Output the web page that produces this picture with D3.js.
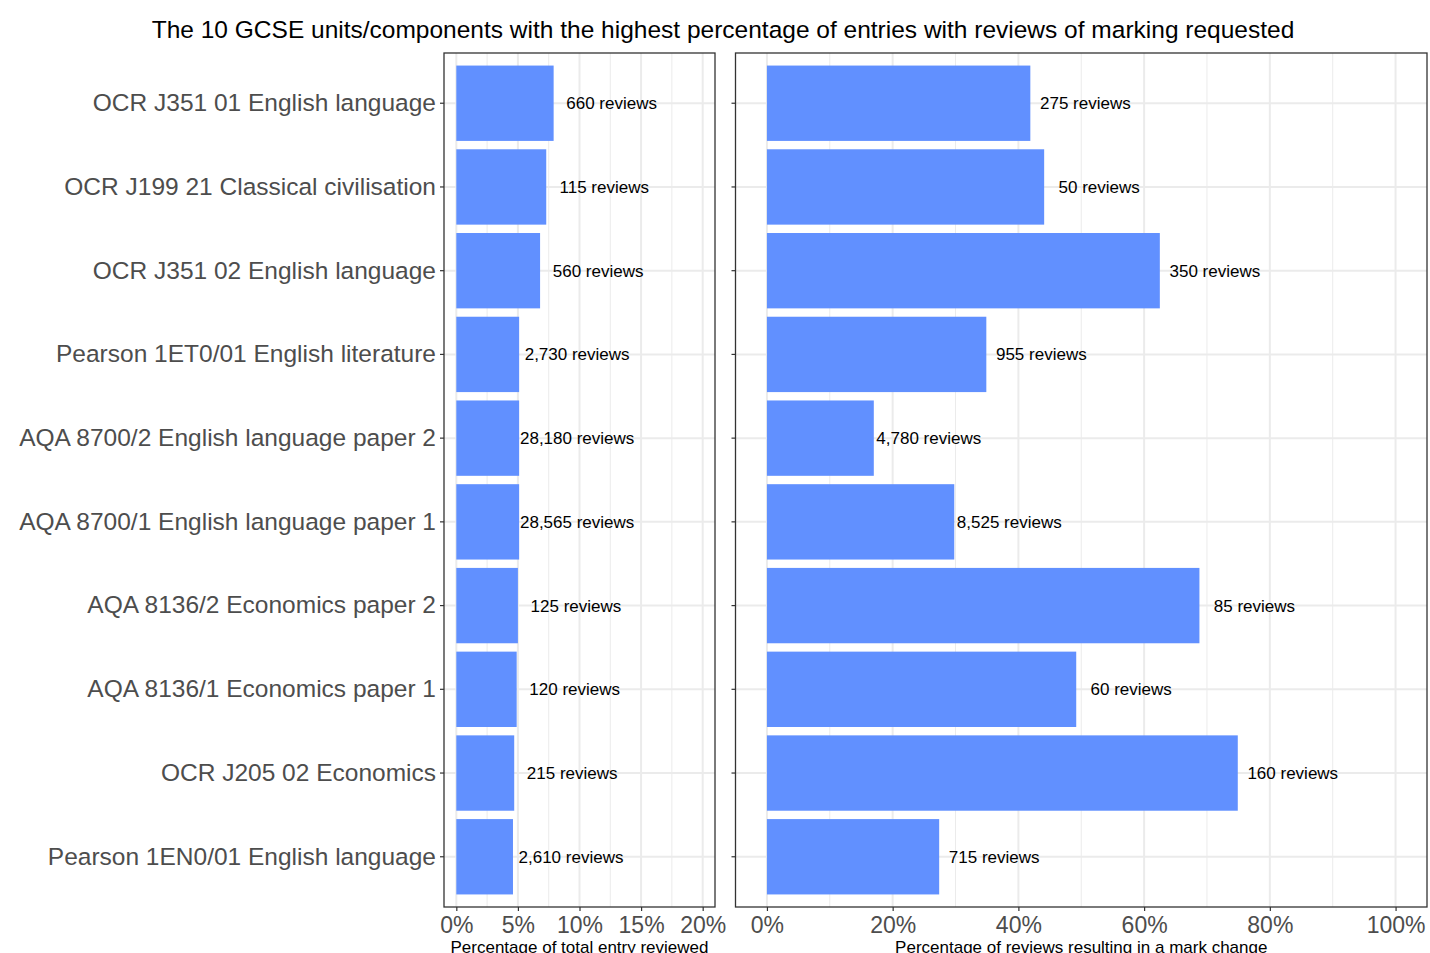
<!DOCTYPE html>
<html>
<head>
<meta charset="utf-8">
<script src="https://cdn.jsdelivr.net/npm/d3@7"></script>
<style>
  body { margin: 0; background: #fff; }
  svg text { font-family: "Liberation Sans", Arial, Helvetica, sans-serif; }
</style>
</head>
<body>
<script>
const units = [
  "OCR J351 01 English language",
  "OCR J199 21 Classical civilisation",
  "OCR J351 02 English language",
  "Pearson 1ET0/01 English literature",
  "AQA 8700/2 English language paper 2",
  "AQA 8700/1 English language paper 1",
  "AQA 8136/2 Economics paper 2",
  "AQA 8136/1 Economics paper 1",
  "OCR J205 02 Economics",
  "Pearson 1EN0/01 English language"
];
// % of total entry reviewed, with number of reviews
const pctReviewed = [7.9, 7.3, 6.8, 5.1, 5.1, 5.1, 5.0, 4.9, 4.7, 4.6];
const reviews = [660, 115, 560, 2730, 28180, 28565, 125, 120, 215, 2610];
// % of reviews resulting in a mark change, with number changed
const pctChanged = [41.9, 44.1, 62.5, 34.9, 17.0, 29.8, 68.8, 49.2, 74.9, 27.4];
const changed = [275, 50, 350, 955, 4780, 8525, 85, 60, 160, 715];

const leftTicks = [0, 5, 10, 15, 20];
const rightTicks = [0, 20, 40, 60, 80, 100];

const W = 1430, H = 953;
const panelTop = 53, panelBottom = 907;
const barColor = "#6190ff";
const fmt = d3.format(",d");

const svg = d3.select("body").append("svg")
    .attr("width", W).attr("height", H);

svg.append("text")
    .attr("x", 723).attr("y", 38)
    .attr("text-anchor", "middle")
    .style("font-size", "24.5px")
    .attr("fill", "#000")
    .text("The 10 GCSE units/components with the highest percentage of entries with reviews of marking requested");

const y = d3.scaleBand()
    .domain(units)
    .range([panelTop, panelBottom])
    .paddingInner(0.1)
    .paddingOuter(0.15);

function panel(x0, x1, domain, ticks, minor, values, counts, labelOffset, title, showY) {
  const x = d3.scaleLinear().domain(domain).range([x0, x1]);
  const g = svg.append("g");

  // grid
  g.selectAll("line.minor").data(minor).join("line")
      .attr("x1", d => x(d)).attr("x2", d => x(d))
      .attr("y1", panelTop).attr("y2", panelBottom)
      .attr("stroke", "#ebebeb").attr("stroke-width", 1);
  g.selectAll("line.vmajor").data(ticks).join("line")
      .attr("x1", d => x(d)).attr("x2", d => x(d))
      .attr("y1", panelTop).attr("y2", panelBottom)
      .attr("stroke", "#ebebeb").attr("stroke-width", 2);
  g.selectAll("line.hmajor").data(units).join("line")
      .attr("x1", x0).attr("x2", x1)
      .attr("y1", d => y(d) + y.bandwidth() / 2)
      .attr("y2", d => y(d) + y.bandwidth() / 2)
      .attr("stroke", "#ebebeb").attr("stroke-width", 2);

  // bars
  g.selectAll("rect.bar").data(units).join("rect")
      .attr("x", x(0))
      .attr("y", d => y(d))
      .attr("width", (d, i) => x(values[i]) - x(0))
      .attr("height", y.bandwidth())
      .attr("fill", barColor);

  g.selectAll("text.lbl").data(units).join("text")
      .attr("x", (d, i) => x(values[i]) + labelOffset)
      .attr("y", d => y(d) + y.bandwidth() / 2)
      .attr("dy", "0.35em")
      .attr("text-anchor", "middle")
      .style("font-size", "17px")
      .attr("fill", "#000")
      .text((d, i) => fmt(counts[i]) + " reviews");

  // border
  g.append("rect")
      .attr("x", x0).attr("y", panelTop)
      .attr("width", x1 - x0).attr("height", panelBottom - panelTop)
      .attr("fill", "none").attr("stroke", "#333").attr("stroke-width", 1.3);

  // x axis
  const xa = g.append("g")
      .attr("transform", `translate(0,${panelBottom})`)
      .call(d3.axisBottom(x).tickValues(ticks).tickFormat(d => d + "%").tickSize(4).tickPadding(6));
  xa.select(".domain").remove();
  xa.selectAll(".tick line").attr("stroke", "#333").attr("stroke-width", 1.2);
  xa.selectAll(".tick text")
      .attr("fill", "#4d4d4d")
      .style("font-size", "23px")
      .style("font-family", "Liberation Sans, Arial, sans-serif");

  // y axis
  const ya = g.append("g")
      .attr("transform", `translate(${x0},0)`)
      .call(d3.axisLeft(y).tickSize(4).tickPadding(4).tickFormat(showY ? (d => d) : () => ""));
  ya.select(".domain").remove();
  ya.selectAll(".tick line").attr("stroke", "#333").attr("stroke-width", 1.2);
  ya.selectAll(".tick text")
      .attr("fill", "#4d4d4d")
      .style("font-size", "24.5px")
      .style("font-family", "Liberation Sans, Arial, sans-serif");

  // axis title sits at the bottom edge, clipped as in the original
  svg.append("text")
      .attr("x", (x0 + x1) / 2).attr("y", 953)
      .attr("text-anchor", "middle")
      .style("font-size", "17px")
      .attr("fill", "#000")
      .text(title);
}

panel(444, 715, [-1, 21], leftTicks, [2.5, 7.5, 12.5, 17.5],
      pctReviewed, reviews, 58, "Percentage of total entry reviewed", true);
panel(735.5, 1427, [-5, 105], rightTicks, [10, 30, 50, 70, 90],
      pctChanged, changed, 55, "Percentage of reviews resulting in a mark change", false);
</script>
</body>
</html>
